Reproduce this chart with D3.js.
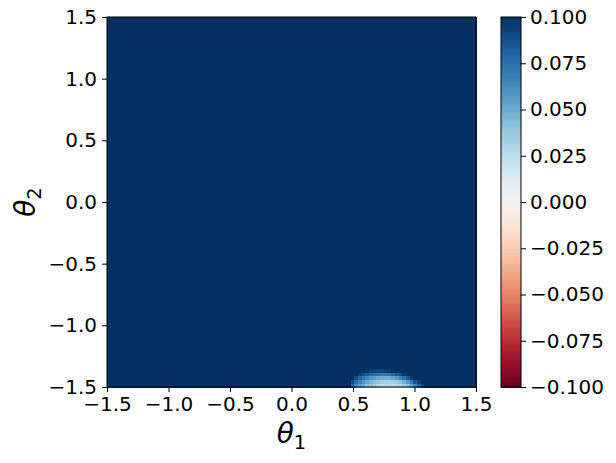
<!DOCTYPE html>
<html><head><meta charset="utf-8">
<script src="https://cdn.jsdelivr.net/npm/d3@7"></script>
<style>body{margin:0;background:#fff}svg{display:block}text{font-family:"DejaVu Sans",sans-serif;fill:#000}</style>
</head><body>
<svg id="c" width="616" height="463"></svg>
<script>
// grid: 100 x 100 cells over [-1.5, 1.5] x [-1.5, 1.5]
const nCells = 100;
const gridMin = -1.5, gridMax = 1.5;
const backgroundValue = 0.5; // everywhere above colour limit
// anomaly rows (row index from bottom), starting column, values
const spotRow0Start = 66;
const spotRow0 = [0.08,0.065,0.055,0.048,0.042,0.037,0.032,0.028,0.026,0.025,0.025,0.025,0.027,0.03,0.035,0.042,0.052,0.065,0.08,0.095];
const spotRow1Start = 66;
const spotRow1 = [0.09,0.077,0.067,0.058,0.052,0.047,0.042,0.038,0.035,0.034,0.034,0.035,0.037,0.04,0.048,0.058,0.07,0.085,0.095];
const spotRow2Start = 67;
const spotRow2 = [0.09,0.08,0.072,0.066,0.06,0.056,0.052,0.05,0.049,0.049,0.052,0.058,0.066,0.075,0.085,0.095];
const spotRow3Start = 68;
const spotRow3 = [0.095,0.09,0.085,0.08,0.076,0.073,0.071,0.071,0.073,0.078,0.085,0.09,0.097];
const spotRow4Start = 70;
const spotRow4 = [0.098,0.095,0.093,0.092,0.092,0.093,0.095,0.098];
const axisTicks = [-1.5,-1.0,-0.5,0.0,0.5,1.0,1.5];
const cbarTicks = [-0.1,-0.075,-0.05,-0.025,0,0.025,0.05,0.075,0.1];
const vmin = -0.1, vmax = 0.1;

const spots = [[0,spotRow0Start,spotRow0],[1,spotRow1Start,spotRow1],[2,spotRow2Start,spotRow2],[3,spotRow3Start,spotRow3],[4,spotRow4Start,spotRow4]];
const cells = [];
for (let j=0;j<nCells;j++) for (let i=0;i<nCells;i++) cells.push({i,j,v:backgroundValue});
spots.forEach(([r,s,vals])=>vals.forEach((v,k)=>{cells[r*nCells+s+k].v=v;}));

const svg = d3.select("#c");
const L=107,R=476,T=17,B=387;
const x = d3.scaleLinear().domain([gridMin,gridMax]).range([L,R]);
const y = d3.scaleLinear().domain([gridMin,gridMax]).range([B,T]);
const step=(gridMax-gridMin)/nCells;
const color = v => d3.interpolateRdBu(Math.max(0,Math.min(1,(v-vmin)/(vmax-vmin))));

const g = svg.append("g").attr("shape-rendering","crispEdges");
g.selectAll("rect").data(cells).join("rect")
  .attr("x",d=>x(gridMin+d.i*step))
  .attr("y",d=>y(gridMin+(d.j+1)*step))
  .attr("width",x(gridMin+step)-x(gridMin)+0.5)
  .attr("height",y(gridMin)-y(gridMin+step)+0.5)
  .attr("fill",d=>color(d.v));

const TF = "20px";
const fmt = d => d3.format(".1f")(d).replace("-","−");
const xa = svg.append("g").attr("transform",`translate(0,${B})`)
  .call(d3.axisBottom(x).tickValues(axisTicks).tickFormat(fmt).tickSize(5).tickPadding(5));
const ya = svg.append("g").attr("transform",`translate(${L},0)`)
  .call(d3.axisLeft(y).tickValues(axisTicks).tickFormat(fmt).tickSize(5).tickPadding(5));
[xa,ya].forEach(a=>{a.select(".domain").remove();a.selectAll("text").attr("font-size",TF).attr("font-family","DejaVu Sans");a.selectAll("line").attr("stroke","#000").attr("stroke-width",1);});
svg.append("rect").attr("x",L).attr("y",T).attr("width",R-L).attr("height",B-T).attr("fill","none").attr("stroke","#000").attr("stroke-width",1);

// axis labels
const xl = svg.append("text").attr("x",(L+R)/2).attr("y",443).attr("text-anchor","middle").attr("font-size","27.8px").attr("font-family","DejaVu Sans");
xl.append("tspan").attr("font-style","italic").text("θ");
xl.append("tspan").attr("font-size","19.5px").attr("dy",6).text("1");
const yl = svg.append("text").attr("transform",`translate(35,${(T+B)/2}) rotate(-90)`).attr("text-anchor","middle").attr("font-size","27.8px").attr("font-family","DejaVu Sans");
yl.append("tspan").attr("font-style","italic").text("θ");
yl.append("tspan").attr("font-size","19.5px").attr("dy",6).text("2");

// colorbar
const CL=501,CR=521;
const cy = d3.scaleLinear().domain([vmin,vmax]).range([B,T]);
const nStops=200;
const cb = svg.append("g").attr("shape-rendering","crispEdges");
cb.selectAll("rect").data(d3.range(nStops)).join("rect")
  .attr("x",CL).attr("width",CR-CL)
  .attr("y",k=>cy(vmin+(k+1)*(vmax-vmin)/nStops))
  .attr("height",(B-T)/nStops+0.6)
  .attr("fill",k=>color(vmin+(k+0.5)*(vmax-vmin)/nStops));
svg.append("rect").attr("x",CL).attr("y",T).attr("width",CR-CL).attr("height",B-T).attr("fill","none").attr("stroke","#000").attr("stroke-width",1);
const ca = svg.append("g").attr("transform",`translate(${CR},0)`)
  .call(d3.axisRight(cy).tickValues(cbarTicks).tickFormat(d=>d3.format(".3f")(d).replace("-","−")).tickSize(5).tickPadding(4));
ca.select(".domain").remove();
ca.selectAll("text").attr("font-size",TF).attr("font-family","DejaVu Sans");
ca.selectAll("line").attr("stroke","#000");
</script>
</body></html>
